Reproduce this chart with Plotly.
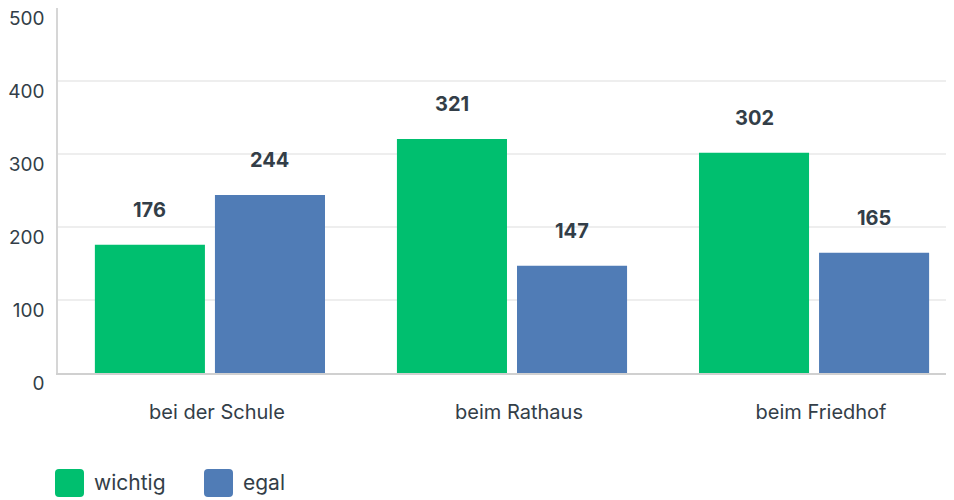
import plotly.graph_objects as go

categories = ["bei der Schule", "beim Rathaus", "beim Friedhof"]
wichtig = [176, 321, 302]
egal = [244, 147, 165]
series_names = ["wichtig", "egal"]
colors = ["#00BF6F", "#507CB6"]
y_ticks = [0, 100, 200, 300, 400, 500]

TXT = "#333E48"
FONT = "Inter"

# the page body adds an 8px offset, so the figure is 8px smaller than the window
W, H = 946, 492
ML, MR, MT, MB = 50, 1, 0, 127
x_range = [-0.503, 2.46]
bargap = 0.205
bargroupgap = 0.0833

fig = go.Figure()
for name, vals, col in zip(series_names, [wichtig, egal], colors):
    fig.add_trace(go.Bar(x=categories, y=vals, name=name, marker_color=col,
                         marker_line_width=0, showlegend=False, hoverinfo="x+y"))

# pixel geometry for value labels
px_per_unit = (W - ML - MR) / (x_range[1] - x_range[0])
slot = px_per_unit * (1 - bargap) / 2
offsets = [-slot / 2, slot / 2]
for vals, off in zip([wichtig, egal], offsets):
    for c, v in zip(categories, vals):
        fig.add_annotation(x=c, y=v, text=f"<b>{v}</b>", showarrow=False,
                           xshift=off, yshift=35, yanchor="middle",
                           font=dict(family=FONT, size=20, color=TXT))

# custom legend with rounded squares
def rounded(w, h, r):
    return (f"M {r},0 L {w-r},0 Q {w},0 {w},{r} L {w},{h-r} Q {w},{h} {w-r},{h} "
            f"L {r},{h} Q 0,{h} 0,{h-r} L 0,{r} Q 0,0 {r},0 Z")

plot_w = W - ML - MR
plot_h = H - MT - MB
legend_x = [47, 196]
for name, col, lx in zip(series_names, colors, legend_x):
    ax = (lx - ML) / plot_w
    ay = (H - MB - 489) / plot_h
    fig.add_shape(type="path", xref="paper", yref="paper", xsizemode="pixel",
                  ysizemode="pixel", xanchor=ax, yanchor=ay,
                  path=rounded(29, 28, 4), fillcolor=col, line_width=0)
    fig.add_annotation(xref="paper", yref="paper", x=(lx + 37 - ML) / plot_w,
                       y=(H - MB - 475) / plot_h, text=name, showarrow=False,
                       xanchor="left", yanchor="middle",
                       font=dict(family=FONT, size=21, color=TXT))

fig.update_layout(
    width=W, height=H,
    margin=dict(l=ML, r=MR, t=MT, b=MB, autoexpand=False),
    plot_bgcolor="white", paper_bgcolor="white",
    barmode="group", bargap=bargap, bargroupgap=bargroupgap,
    font=dict(family=FONT, color=TXT),
)
fig.update_xaxes(range=x_range, showgrid=False, showline=True, linecolor="#D0D0D0",
                 linewidth=2, ticks="", tickfont=dict(size=20, color=TXT),
                 ticklabelstandoff=20, ticklabelshift=7, automargin=False,
                 fixedrange=True)
fig.update_yaxes(range=[0, 500.5], tickvals=y_ticks, showgrid=True, gridcolor="#EEEEEE",
                 gridwidth=1.5, zeroline=False, showline=True, linecolor="#D6D6D6",
                 linewidth=1.5, ticks="", tickfont=dict(size=19, color=TXT),
                 ticklabelstandoff=8, ticklabelshift=10, ticklabeloverflow="allow",
                 automargin=False, fixedrange=True)

fig.write_html("out.html")
